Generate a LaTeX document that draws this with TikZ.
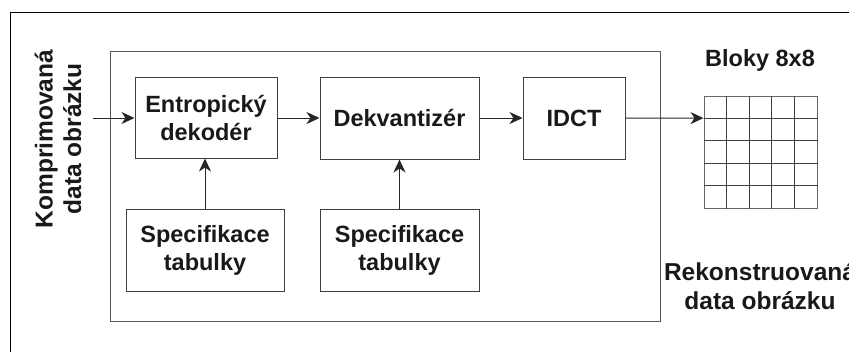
\documentclass[tikz,border=0pt]{standalone}
\usepackage{fontspec}
\setmainfont{Liberation Sans}
\usetikzlibrary{arrows.meta,calc}
\begin{document}
\begin{tikzpicture}[x=1pt,y=-1pt,
  lbl/.style={font=\fontsize{23.5}{28}\selectfont\bfseries, text=black!90, align=center, inner sep=0pt},
  sidelbl/.style={lbl, font=\fontsize{24.5}{28.5}\selectfont\bfseries},
  blk/.style={draw=black!75, line width=1pt, inner sep=0pt, lbl},
  conn/.style={draw=black!85, line width=1pt, -{Stealth[length=13pt,width=12pt,inset=4pt]}},
  gridline/.style={draw=black!75, line width=1pt}
]
\useasboundingbox (0,0) rectangle (849,351);
% outer frame
\draw[black, line width=1pt] (10,360) -- (10,12) -- (860,12);
% container
\node[draw=black!65, line width=1pt, minimum width=550pt, minimum height=270pt, inner sep=0pt] (cont) at (385,186) {};
% boxes
\node[blk, minimum width=142pt, minimum height=81pt] (ent) at (206,117.5) {Entropický\\dekodér};
\node[blk, minimum width=159pt, minimum height=82pt] (dek) at (399.5,118) {Dekvantizér};
\node[blk, minimum width=102pt, minimum height=82pt] (idct) at (574,118) {IDCT};
\node[blk, minimum width=158pt, minimum height=82pt] (spa) at (205,250) {Specifikace\\tabulky};
\node[blk, minimum width=159pt, minimum height=82pt] (spb) at (399.5,250) {Specifikace\\tabulky};
% grid
\node[draw=black!60, line width=1pt, minimum width=113pt, minimum height=112pt, inner sep=0pt] (grid) at (760.5,152) {};
\foreach \i in {1,2,3,4}{
  \draw[gridline] ($(grid.north west)!\i/5!(grid.north east)$) -- ($(grid.south west)!\i/5!(grid.south east)$);
  \draw[gridline] ($(grid.north west)!\i/5!(grid.south west)$) -- ($(grid.north east)!\i/5!(grid.south east)$);
}
\coordinate (gin) at ($(grid.north west)!1/5!(grid.south west)$);
% labels
\node[lbl] (bloky) at (760,60) {Bloky 8x8};
\node[sidelbl] (rek) at (760,286) {Rekonstruovaná\\data obrázku};
\node[sidelbl, rotate=90] (komp) at (58,139) {Komprimovaná\\data obrázku};
% connectors
\coordinate (inp) at (93,118);
\draw[conn] (inp) -- (inp -| ent.west);
\draw[conn] (ent.east |- dek.west) -- (dek.west);
\draw[conn] (dek.east) -- (idct.west);
\draw[conn] (idct.east) -- (gin);
\draw[conn] (spa.north) -- (spa.north |- ent.south);
\draw[conn] (spb.north) -- (dek.south -| spb.north);
\end{tikzpicture}
\end{document}
